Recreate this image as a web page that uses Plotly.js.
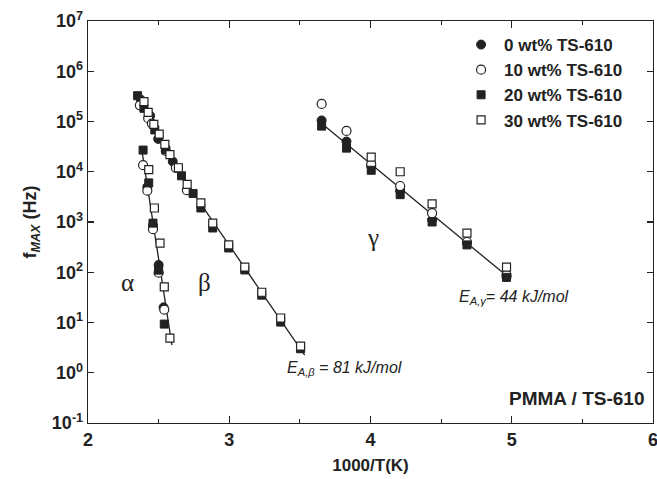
<!DOCTYPE html>
<html>
<head>
<meta charset="utf-8">
<script src="https://cdn.plot.ly/plotly-3.0.1.min.js"></script>
<style>html,body{margin:0;padding:0;background:#fff}#chart{width:657px;height:479px}</style>
</head>
<body>
<div id="chart"></div>
<script>
// ---- data: x = 1000/T (K^-1), y = f_MAX (Hz) ----
const seriesNames = ['0 wt% TS-610', '10 wt% TS-610', '20 wt% TS-610', '30 wt% TS-610'];

// alpha relaxation
const alphaX0  = [2.42, 2.46, 2.50, 2.535];
const alphaY0  = [5.0e3, 8.5e2, 1.4e2, 20];
const alphaX10 = [2.39, 2.42, 2.46, 2.50, 2.54];
const alphaY10 = [1.35e4, 4.2e3, 7.2e2, 98, 18];
const alphaX20 = [2.39, 2.43, 2.46, 2.50, 2.54];
const alphaY20 = [2.7e4, 6.0e3, 9.5e2, 1.1e2, 9.3];
const alphaX30 = [2.43, 2.47, 2.51, 2.54, 2.58];
const alphaY30 = [1.1e4, 1.9e3, 3.8e2, 51, 4.9];

// beta relaxation
const betaX0  = [2.375, 2.44, 2.497, 2.60];
const betaY0  = [2.7e5, 1.3e5, 4.5e4, 1.6e4];
const betaX10 = [2.367, 2.426, 2.452, 2.551, 2.622, 2.700];
const betaY10 = [2.1e5, 1.16e5, 9.1e4, 2.6e4, 1.19e4, 4.3e3];
const betaX20 = [2.351, 2.396, 2.473, 2.551, 2.662, 2.744, 2.799, 2.883, 2.996, 3.110, 3.230, 3.364, 3.505];
const betaY20 = [3.26e5, 1.83e5, 6.8e4, 2.71e4, 8.3e3, 3.7e3, 1.9e3, 7.6e2, 3.04e2, 1.11e2, 35, 10.2, 3.0];
const betaX30 = [2.396, 2.426, 2.466, 2.504, 2.544, 2.580, 2.640, 2.702, 2.799, 2.883, 2.996, 3.110, 3.230, 3.364, 3.505];
const betaY30 = [2.48e5, 1.52e5, 8.8e4, 5.6e4, 3.5e4, 2.2e4, 1.2e4, 5.6e3, 2.4e3, 9.5e2, 3.5e2, 1.27e2, 40, 12.3, 3.4];

// gamma relaxation
const gammaX   = [3.654, 3.83, 4.005, 4.21, 4.436, 4.683, 4.963];
const gammaY0  = [1.05e5, 4.0e4, 1.3e4, 4.2e3, 1.1e3, 3.8e2, 81];
const gammaY10 = [2.24e5, 6.5e4, 1.4e4, 5.2e3, 1.5e3, 4.0e2, 89];
const gammaY20 = [8.1e4, 2.95e4, 1.07e4, 3.5e3, 1.0e3, 3.5e2, 79];
const gammaX30 = [4.005, 4.21, 4.436, 4.683, 4.963];
const gammaY30 = [1.95e4, 1.0e4, 2.3e3, 6.0e2, 1.26e2];

// Arrhenius fit lines
const fitAlphaX = [2.379, 2.594];
const fitAlphaY = [2.95e4, 3.55];
const fitBetaX  = [2.35, 2.66, 3.534];
const fitBetaY  = [3.3e5, 8.5e3, 2.24];
const fitGammaX = [3.65, 4.96];
const fitGammaY = [9.3e4, 87];

// axis ticks
const xTickVals = [2, 3, 4, 5, 6];
const xTickText = ['<b>2</b>', '<b>3</b>', '<b>4</b>', '<b>5</b>', '<b>6</b>'];
const yTickVals = [0.1, 1, 10, 100, 1e3, 1e4, 1e5, 1e6, 1e7];
const yTickText = ['<b>10<sup>-1</sup></b>', '<b>10<sup>0</sup></b>', '<b>10<sup>1</sup></b>', '<b>10<sup>2</sup></b>', '<b>10<sup>3</sup></b>', '<b>10<sup>4</sup></b>', '<b>10<sup>5</sup></b>', '<b>10<sup>6</sup></b>', '<b>10<sup>7</sup></b>'];

// ---- build ----
const ink = '#222';
const lineStyle = {color: ink, width: 1.3};
const traces = [];
[[fitAlphaX, fitAlphaY], [fitBetaX, fitBetaY], [fitGammaX, fitGammaY]].forEach(([x, y]) => {
  traces.push({x, y, mode: 'lines', line: lineStyle, showlegend: false, hoverinfo: 'skip'});
});

const allX = [
  alphaX0.concat(betaX0, gammaX),
  alphaX10.concat(betaX10, gammaX),
  alphaX20.concat(betaX20, gammaX),
  alphaX30.concat(betaX30, gammaX30)
];
const allY = [
  alphaY0.concat(betaY0, gammaY0),
  alphaY10.concat(betaY10, gammaY10),
  alphaY20.concat(betaY20, gammaY20),
  alphaY30.concat(betaY30, gammaY30)
];
const markers = [
  {symbol: 'circle', size: 9, color: ink, line: {color: ink, width: 1}},
  {symbol: 'circle', size: 9, color: '#fff', line: {color: ink, width: 1.2}},
  {symbol: 'square', size: 8, color: ink, line: {color: ink, width: 1}},
  {symbol: 'square', size: 8, color: '#fff', line: {color: ink, width: 1.2}}
];
for (let i = 0; i < 4; i++) {
  traces.push({x: allX[i], y: allY[i], mode: 'markers', name: '<b>' + seriesNames[i] + '</b>',
               legendgroup: 'g' + i, marker: markers[i]});
}

const fam = 'Arial, "Liberation Sans", sans-serif';
const tickFont = {family: fam, size: 18, color: ink};

const layout = {
  width: 657, height: 479,
  margin: {l: 88, r: 4, t: 21, b: 56},
  paper_bgcolor: '#fff', plot_bgcolor: '#fff',
  font: {family: fam, color: ink},
  xaxis: {
    range: [2, 6], tickvals: xTickVals, ticktext: xTickText,
    ticks: 'inside', ticklen: 7, tickwidth: 1.2, tickcolor: ink,
    minor: {dtick: 0.5, ticks: 'inside', ticklen: 4, tickcolor: ink},
    showline: true, linecolor: ink, linewidth: 1.3, mirror: 'ticks',
    showgrid: false, zeroline: false, ticklabeloverflow: 'allow',
    tickfont: tickFont,
    title: {text: '<b>1000/T(K)</b>', font: {family: fam, size: 17, color: ink}, standoff: 10}
  },
  yaxis: {
    type: 'log', range: [-1, 7],
    tickvals: yTickVals, ticktext: yTickText,
    ticks: 'inside', ticklen: 6, tickwidth: 1.2, tickcolor: ink,
    showline: true, linecolor: ink, linewidth: 1.3, mirror: 'ticks',
    showgrid: false, zeroline: false, ticklabeloverflow: 'allow',
    tickfont: tickFont,
    title: {text: '<b>f<sub><i>MAX</i></sub> (Hz)</b>', font: {family: fam, size: 18, color: ink}, standoff: 10}
  },
  legend: {
    x: 0.655, y: 0.985, xanchor: 'left', yanchor: 'top',
    bgcolor: 'rgba(0,0,0,0)', borderwidth: 0, itemwidth: 36,
    font: {family: fam, size: 17, color: ink}, tracegroupgap: 0
  },
  annotations: [
    {x: 2.283, y: 1.79, xref: 'x', yref: 'y', text: 'α', showarrow: false, font: {family: '"Liberation Serif", "DejaVu Serif", serif', size: 25, color: ink}},
    {x: 2.827, y: 1.79, xref: 'x', yref: 'y', text: 'β', showarrow: false, font: {family: '"Liberation Serif", "DejaVu Serif", serif', size: 25, color: ink}},
    {x: 4.02, y: 2.70, xref: 'x', yref: 'y', text: 'γ', showarrow: false, font: {family: '"Liberation Serif", "DejaVu Serif", serif', size: 25, color: ink}},
    {x: 3.392, y: 0.094, xref: 'x', yref: 'y', xanchor: 'left', text: '<i>E<sub>A,β</sub> = 81 kJ/mol</i>', showarrow: false, font: {family: fam, size: 16, color: ink}},
    {x: 4.615, y: 1.507, xref: 'x', yref: 'y', xanchor: 'left', text: '<i>E<sub>A,γ</sub>= 44 kJ/mol</i>', showarrow: false, font: {family: fam, size: 16, color: ink}},
    {x: 0.99, y: 0.06, xref: 'paper', yref: 'paper', xanchor: 'right', yanchor: 'middle', text: '<b>PMMA / TS-610</b>', showarrow: false, font: {family: fam, size: 19, color: ink}}
  ]
};

Plotly.newPlot('chart', traces, layout, {displayModeBar: false, staticPlot: true});
</script>
</body>
</html>
